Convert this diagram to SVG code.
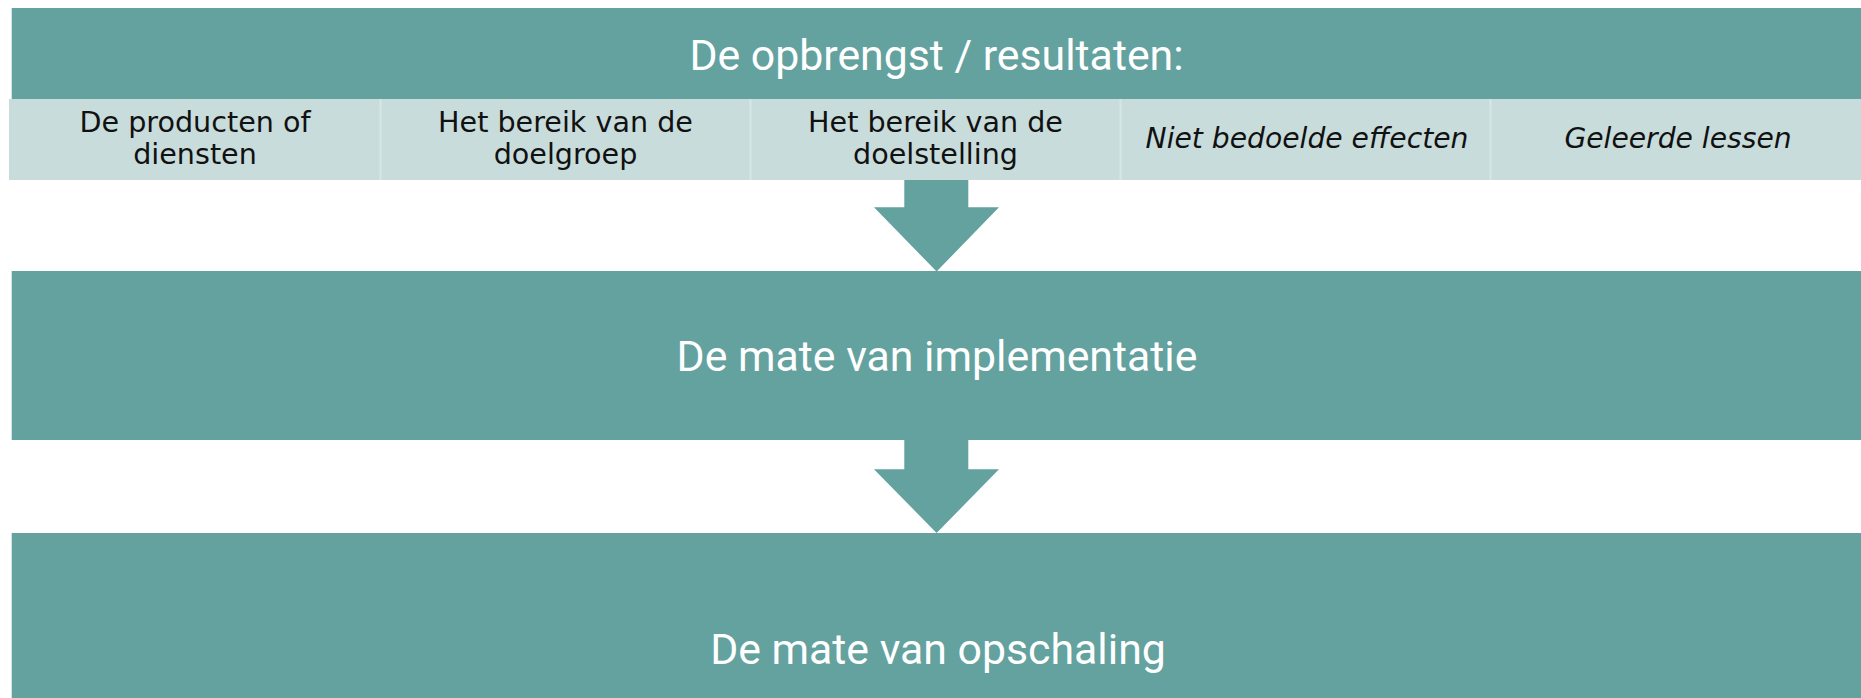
<svg xmlns="http://www.w3.org/2000/svg" width="1861" height="698" viewBox="0 0 1861 698">
<style>
.band{fill:#63A29F}
.cell{fill:#C8DCDC}
.div{stroke:#D6E6E5;stroke-width:2}
.hd{font-family:Roboto,"Liberation Sans",sans-serif;font-size:42.8px;fill:#ffffff;text-anchor:middle}
.ct{font-family:"DejaVu Sans","Liberation Sans",sans-serif;font-size:28.6px;fill:#111111;text-anchor:middle}
.it{font-style:italic;font-size:28.2px}
.arr{fill:#63A29F}
</style>
<rect width="1861" height="698" fill="#ffffff"/>
<g id="opbrengst">
<rect class="band" x="11.7" y="8" width="1849.3" height="91"/>
<text class="hd" x="936.5" y="69.5">De opbrengst / resultaten:</text>
</g>
<g id="cells">
<rect class="cell" x="9" y="99" width="1852" height="81"/>
<line class="div" x1="380.5" y1="99" x2="380.5" y2="180"/>
<line class="div" x1="750.5" y1="99" x2="750.5" y2="180"/>
<line class="div" x1="1120.5" y1="99" x2="1120.5" y2="180"/>
<line class="div" x1="1490.5" y1="99" x2="1490.5" y2="180"/>
</g>
<g id="producten">
<text class="ct" x="195" y="131.5">De producten of</text>
<text class="ct" x="195" y="164">diensten</text>
</g>
<g id="doelgroep">
<text class="ct" x="565.5" y="131.5">Het bereik van de</text>
<text class="ct" x="565.5" y="164">doelgroep</text>
</g>
<g id="doelstelling">
<text class="ct" x="935.5" y="131.5">Het bereik van de</text>
<text class="ct" x="935.5" y="164">doelstelling</text>
</g>
<g id="effecten">
<text class="ct it" x="1307" y="147.5">Niet bedoelde effecten</text>
</g>
<g id="lessen">
<text class="ct it" x="1678" y="148">Geleerde lessen</text>
</g>
<g id="implementatie">
<rect class="band" x="11.7" y="271" width="1849.3" height="169"/>
<text class="hd" x="937" y="371">De mate van implementatie</text>
</g>
<g id="opschaling">
<rect class="band" x="11.7" y="533" width="1849.3" height="170"/>
<text class="hd" x="938" y="664">De mate van opschaling</text>
</g>
<g id="connectors">
<polygon class="arr" points="904.3,180 968.3,180 968.3,207.3 999,207.3 936.6,271.5 874,207.3 904.3,207.3"/>
<polygon class="arr" points="904.3,440 968.3,440 968.3,469.3 999,469.3 936.6,533 874,469.3 904.3,469.3"/>
</g>
</svg>
